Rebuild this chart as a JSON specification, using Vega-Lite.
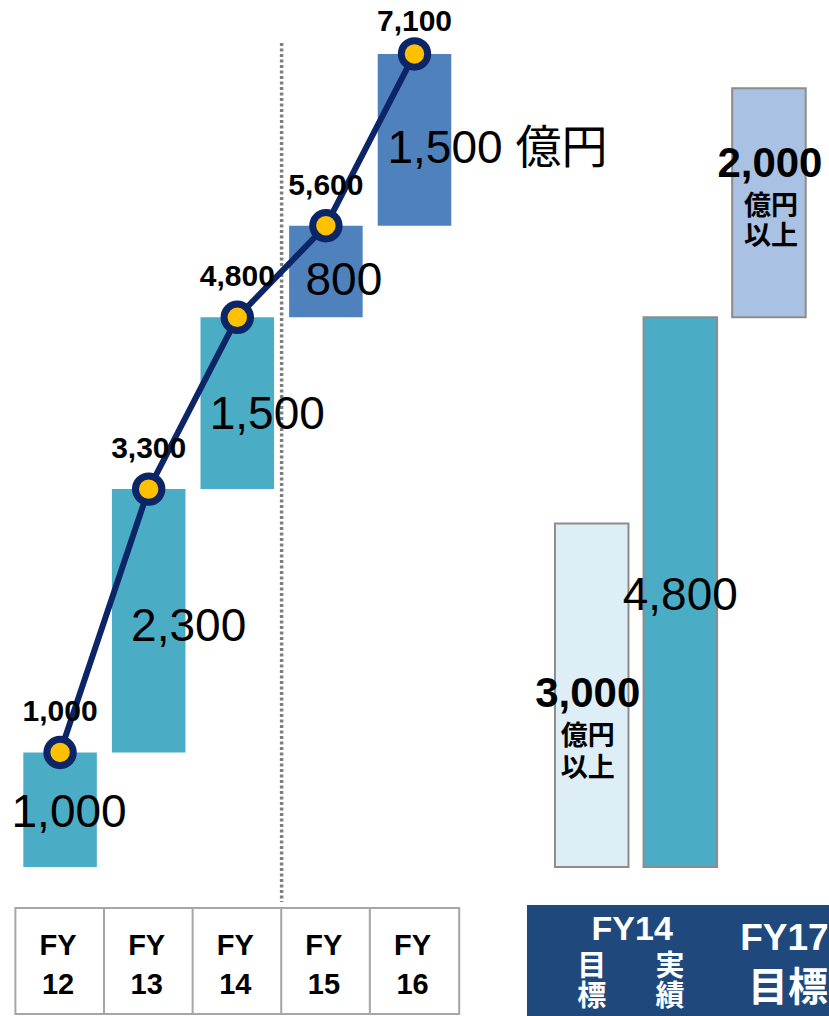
{
  "$schema": "https://vega.github.io/schema/vega-lite/v6.json",
  "width": 829,
  "height": 1016,
  "padding": 0,
  "autosize": {"type": "none"},
  "background": "white",
  "config": {"view": {"stroke": null}, "text": {"font": "Liberation Sans, Noto Sans CJK JP"}},
  "datasets": {
    "bars": [
      {"cat": "FY12", "start": 0, "end": 1000, "kind": "実績", "lab": "FY\n12"},
      {"cat": "FY13", "start": 1000, "end": 3300, "kind": "実績", "lab": "FY\n13"},
      {"cat": "FY14", "start": 3300, "end": 4800, "kind": "実績", "lab": "FY\n14"},
      {"cat": "FY15", "start": 4800, "end": 5600, "kind": "計画", "lab": "FY\n15"},
      {"cat": "FY16", "start": 5600, "end": 7100, "kind": "計画", "lab": "FY\n16"}
    ],
    "right": [
      {"cat": "FY14目標", "start": 0, "end": 3000, "kind": "FY14目標"},
      {"cat": "FY14実績", "start": 0, "end": 4800, "kind": "実績"},
      {"cat": "FY17目標", "start": 4800, "end": 6800, "kind": "FY17目標"}
    ],
    "one": [{}]
  },
  "layer": [
    {
      "data": {"name": "bars"},
      "mark": {"type": "bar", "width": {"band": 1.215}, "fill": "white", "stroke": "#A6A6A6", "strokeWidth": 2},
      "encoding": {
        "x": {"field": "cat", "type": "nominal", "sort": null, "axis": null,
          "scale": {"domain": ["FY12", "FY13", "FY14", "FY15", "FY16", "_", "FY14目標", "FY14実績", "FY17目標"], "paddingInner": 0.17, "paddingOuter": 0.263}},
        "y": {"datum": -358, "type": "quantitative", "axis": null, "scale": {"domain": [-1301, 7571], "nice": false, "zero": false}},
        "y2": {"datum": -1284}
      }
    },
    {
      "data": {"name": "bars"},
      "mark": {"type": "text", "lineBreak": "\n", "fontSize": 29, "fontWeight": "bold", "lineHeight": 39, "baseline": "middle", "align": "center", "color": "#000000", "dx": -2},
      "encoding": {
        "x": {"field": "cat", "type": "nominal"},
        "y": {"datum": -688, "type": "quantitative"},
        "text": {"field": "lab"}
      }
    },
    {
      "data": {"name": "one"},
      "mark": {"type": "rect", "fill": "#1F497D"},
      "encoding": {
        "x": {"datum": "FY14目標", "bandPosition": -0.38},
        "x2": {"datum": "FY17目標", "bandPosition": 1.6},
        "y": {"datum": -332, "type": "quantitative"},
        "y2": {"datum": -1301}
      }
    },
    {
      "data": {"name": "one"},
      "mark": {"type": "rule", "color": "#7F7F7F", "strokeWidth": 3.5, "strokeDash": [3, 2.5]},
      "encoding": {
        "x": {"datum": "FY15", "bandPosition": -0.102},
        "y": {"datum": 7196, "type": "quantitative"},
        "y2": {"datum": -306}
      }
    },
    {
      "data": {"name": "bars"},
      "mark": {"type": "bar"},
      "encoding": {
        "x": {"field": "cat", "type": "nominal"},
        "y": {"field": "end", "type": "quantitative"},
        "y2": {"field": "start"},
        "color": {"field": "kind", "type": "nominal", "legend": null,
          "scale": {"domain": ["実績", "計画", "FY14目標", "FY17目標"], "range": ["#4BACC6", "#4F81BD", "#DDEEF6", "#A9C1E2"]}}
      }
    },
    {
      "data": {"name": "right"},
      "mark": {"type": "bar", "stroke": "#8C8C8C", "strokeWidth": 2},
      "encoding": {
        "x": {"field": "cat", "type": "nominal"},
        "y": {"field": "end", "type": "quantitative"},
        "y2": {"field": "start"},
        "color": {"field": "kind", "type": "nominal", "legend": null}
      }
    },
    {
      "data": {"name": "bars"},
      "mark": {"type": "line", "color": "#0B2566", "strokeWidth": 6},
      "encoding": {
        "x": {"field": "cat", "type": "nominal"},
        "y": {"field": "end", "type": "quantitative"}
      }
    },
    {
      "data": {"name": "bars"},
      "mark": {"type": "point", "filled": true, "fill": "#FFC000", "stroke": "#0B2566", "strokeWidth": 7, "size": 700, "opacity": 1, "shape": "circle"},
      "encoding": {
        "x": {"field": "cat", "type": "nominal"},
        "y": {"field": "end", "type": "quantitative"}
      }
    },
    {
      "data": {"name": "bars"},
      "transform": [{"filter": "datum.end < 7000"}],
      "mark": {"type": "text", "fontSize": 30, "fontWeight": "bold", "baseline": "middle", "align": "center", "dy": -40, "color": "#000000"},
      "encoding": {
        "x": {"field": "cat", "type": "nominal"},
        "y": {"field": "end", "type": "quantitative"},
        "text": {"field": "end", "type": "quantitative", "format": ","}
      }
    },
    {
      "data": {"name": "bars"},
      "transform": [{"filter": "datum.end >= 7000"}],
      "mark": {"type": "text", "fontSize": 30, "fontWeight": "bold", "baseline": "middle", "align": "center", "dy": -32, "color": "#000000"},
      "encoding": {
        "x": {"field": "cat", "type": "nominal"},
        "y": {"field": "end", "type": "quantitative"},
        "text": {"field": "end", "type": "quantitative", "format": ","}
      }
    },
    {
      "data": {"name": "bars"},
      "transform": [{"filter": "datum.cat == 'FY12'"}],
      "mark": {"type": "text", "fontSize": 46, "baseline": "middle", "align": "center", "dx": 9, "dy": 61, "color": "#000000"},
      "encoding": {
        "x": {"field": "cat", "type": "nominal"},
        "y": {"field": "end", "type": "quantitative"},
        "text": {"value": "1,000"}
      }
    },
    {
      "data": {"name": "bars"},
      "transform": [{"filter": "datum.cat == 'FY13'"}],
      "mark": {"type": "text", "fontSize": 46, "baseline": "middle", "align": "center", "dx": 40, "dy": 138, "color": "#000000"},
      "encoding": {
        "x": {"field": "cat", "type": "nominal"},
        "y": {"field": "end", "type": "quantitative"},
        "text": {"value": "2,300"}
      }
    },
    {
      "data": {"name": "bars"},
      "transform": [{"filter": "datum.cat == 'FY14'"}],
      "mark": {"type": "text", "fontSize": 46, "baseline": "middle", "align": "center", "dx": 30, "dy": 98, "color": "#000000"},
      "encoding": {
        "x": {"field": "cat", "type": "nominal"},
        "y": {"field": "end", "type": "quantitative"},
        "text": {"value": "1,500"}
      }
    },
    {
      "data": {"name": "bars"},
      "transform": [{"filter": "datum.cat == 'FY15'"}],
      "mark": {"type": "text", "fontSize": 46, "baseline": "middle", "align": "center", "dx": 18, "dy": 55, "color": "#000000"},
      "encoding": {
        "x": {"field": "cat", "type": "nominal"},
        "y": {"field": "end", "type": "quantitative"},
        "text": {"value": "800"}
      }
    },
    {
      "data": {"name": "bars"},
      "transform": [{"filter": "datum.cat == 'FY16'"}],
      "mark": {"type": "text", "fontSize": 46, "baseline": "middle", "align": "left", "dx": -27, "dy": 95, "color": "#000000"},
      "encoding": {
        "x": {"field": "cat", "type": "nominal"},
        "y": {"field": "end", "type": "quantitative"},
        "text": {"value": "1,500 億円"}
      }
    },
    {
      "data": {"name": "right"},
      "transform": [{"filter": "datum.cat == 'FY14実績'"}],
      "mark": {"type": "text", "fontSize": 46, "baseline": "middle", "align": "center", "dx": 0, "dy": 279, "color": "#000000"},
      "encoding": {
        "x": {"field": "cat", "type": "nominal"},
        "y": {"field": "end", "type": "quantitative"},
        "text": {"value": "4,800"}
      }
    },
    {
      "data": {"name": "right"},
      "transform": [{"filter": "datum.cat == 'FY14目標'"}],
      "mark": {"type": "text", "fontSize": 42, "fontWeight": "bold", "baseline": "middle", "align": "center", "dx": -4, "dy": 171, "color": "#000000"},
      "encoding": {
        "x": {"field": "cat", "type": "nominal"},
        "y": {"field": "end", "type": "quantitative"},
        "text": {"value": "3,000"}
      }
    },
    {
      "data": {"name": "right"},
      "transform": [{"filter": "datum.cat == 'FY14目標'"}],
      "mark": {"type": "text", "font": "Noto Sans CJK JP", "fontSize": 27, "fontWeight": "bold", "baseline": "middle", "align": "center", "dx": -4, "dy": 214, "color": "#000000"},
      "encoding": {
        "x": {"field": "cat", "type": "nominal"},
        "y": {"field": "end", "type": "quantitative"},
        "text": {"value": "億円"}
      }
    },
    {
      "data": {"name": "right"},
      "transform": [{"filter": "datum.cat == 'FY14目標'"}],
      "mark": {"type": "text", "font": "Noto Sans CJK JP", "fontSize": 27, "fontWeight": "bold", "baseline": "middle", "align": "center", "dx": -4, "dy": 246, "color": "#000000"},
      "encoding": {
        "x": {"field": "cat", "type": "nominal"},
        "y": {"field": "end", "type": "quantitative"},
        "text": {"value": "以上"}
      }
    },
    {
      "data": {"name": "right"},
      "transform": [{"filter": "datum.cat == 'FY17目標'"}],
      "mark": {"type": "text", "fontSize": 42, "fontWeight": "bold", "baseline": "middle", "align": "center", "dx": 1, "dy": 76, "color": "#000000"},
      "encoding": {
        "x": {"field": "cat", "type": "nominal"},
        "y": {"field": "end", "type": "quantitative"},
        "text": {"value": "2,000"}
      }
    },
    {
      "data": {"name": "right"},
      "transform": [{"filter": "datum.cat == 'FY17目標'"}],
      "mark": {"type": "text", "font": "Noto Sans CJK JP", "fontSize": 27, "fontWeight": "bold", "baseline": "middle", "align": "center", "dx": 2, "dy": 119, "color": "#000000"},
      "encoding": {
        "x": {"field": "cat", "type": "nominal"},
        "y": {"field": "end", "type": "quantitative"},
        "text": {"value": "億円"}
      }
    },
    {
      "data": {"name": "right"},
      "transform": [{"filter": "datum.cat == 'FY17目標'"}],
      "mark": {"type": "text", "font": "Noto Sans CJK JP", "fontSize": 27, "fontWeight": "bold", "baseline": "middle", "align": "center", "dx": 2, "dy": 149, "color": "#000000"},
      "encoding": {
        "x": {"field": "cat", "type": "nominal"},
        "y": {"field": "end", "type": "quantitative"},
        "text": {"value": "以上"}
      }
    },
    {
      "data": {"name": "one"},
      "mark": {"type": "text", "fontSize": 34, "fontWeight": "bold", "baseline": "middle", "align": "center", "color": "white"},
      "encoding": {
        "x": {"datum": "FY14目標", "bandPosition": 1.05},
        "y": {"datum": -550, "type": "quantitative"},
        "text": {"value": "FY14"}
      }
    },
    {
      "data": {"name": "one"},
      "mark": {"type": "text", "font": "Noto Sans CJK JP", "fontSize": 29, "fontWeight": "bold", "baseline": "middle", "align": "center", "color": "white", "lineBreak": "\n", "lineHeight": 30},
      "encoding": {
        "x": {"datum": "FY14目標", "bandPosition": 0.5},
        "y": {"datum": -875, "type": "quantitative"},
        "text": {"value": "目\n標"}
      }
    },
    {
      "data": {"name": "one"},
      "mark": {"type": "text", "font": "Noto Sans CJK JP", "fontSize": 29, "fontWeight": "bold", "baseline": "middle", "align": "center", "color": "white", "lineBreak": "\n", "lineHeight": 30},
      "encoding": {
        "x": {"datum": "FY14実績", "bandPosition": 0.36},
        "y": {"datum": -875, "type": "quantitative"},
        "text": {"value": "実\n績"}
      }
    },
    {
      "data": {"name": "one"},
      "mark": {"type": "text", "fontSize": 37, "fontWeight": "bold", "baseline": "middle", "align": "center", "color": "white"},
      "encoding": {
        "x": {"datum": "FY17目標", "bandPosition": 0.71},
        "y": {"datum": -629, "type": "quantitative"},
        "text": {"value": "FY17"}
      }
    },
    {
      "data": {"name": "one"},
      "mark": {"type": "text", "font": "Noto Sans CJK JP", "fontSize": 40, "fontWeight": "bold", "baseline": "middle", "align": "center", "color": "white"},
      "encoding": {
        "x": {"datum": "FY17目標", "bandPosition": 0.76},
        "y": {"datum": -1065, "type": "quantitative"},
        "text": {"value": "目標"}
      }
    }
  ]
}
